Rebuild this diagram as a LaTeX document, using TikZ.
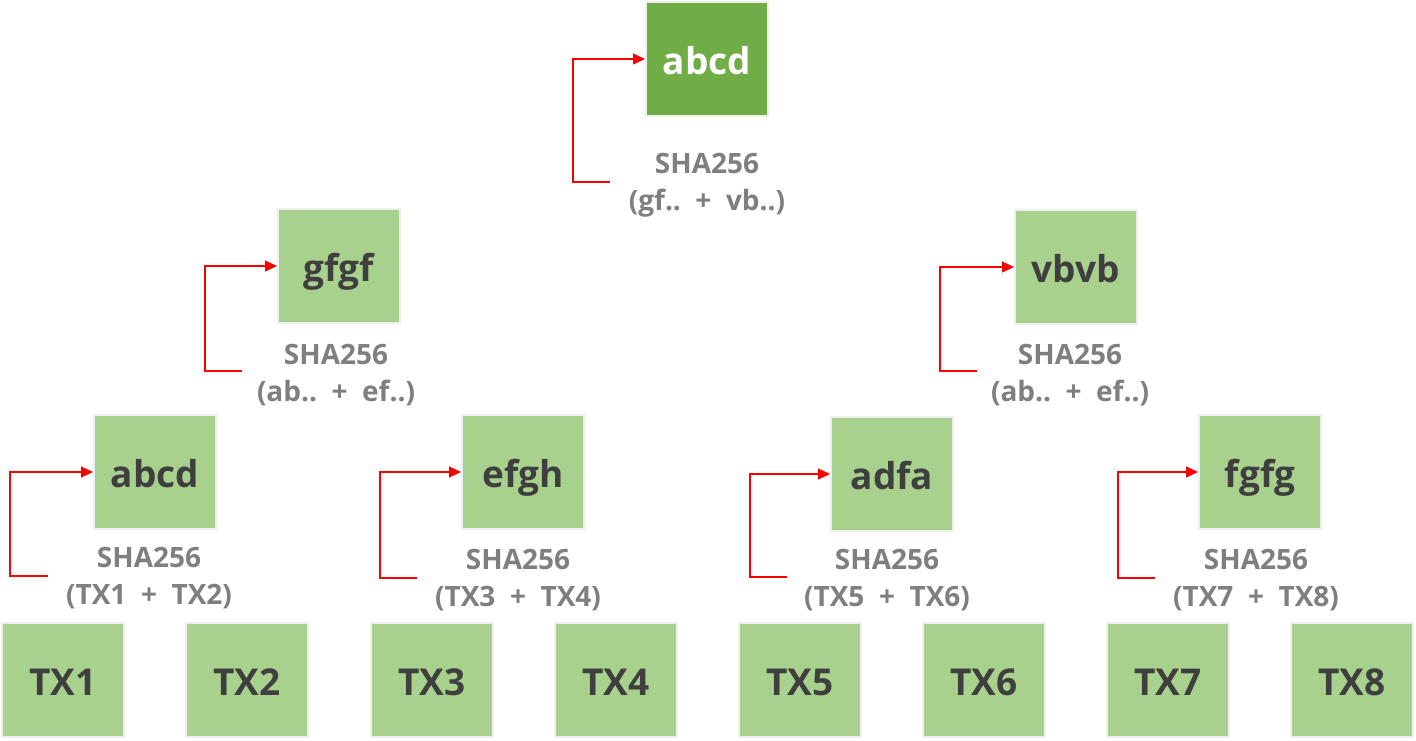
\documentclass[tikz,border=0pt]{standalone}
\usepackage{fontspec}
\setmainfont{Open Sans}
\usetikzlibrary{arrows.meta}
\definecolor{lg}{HTML}{A9D18E}
\definecolor{dg}{HTML}{70AD47}
\definecolor{bd}{HTML}{EEEEEE}
\definecolor{tx}{HTML}{3F3F3F}
\definecolor{lb}{HTML}{7F7F7F}
\tikzset{
  box/.style={rectangle, fill=lg, draw=bd, line width=2pt, minimum width=122pt, minimum height=114pt, inner sep=0pt,
    font=\bfseries\fontsize{37}{44}\selectfont, text=tx, text height=34pt, text depth=4pt},
  rootbox/.style={box, fill=dg, text=white},
  hlabel/.style={align=center, font=\bfseries\fontsize{28}{37}\selectfont, text=lb, inner sep=0pt},
  harrow/.style={draw=red, line width=1.1pt, -{Triangle[length=12pt,width=11pt]}},
}
\begin{document}
\begin{tikzpicture}[x=1pt,y=-1pt]
\useasboundingbox (0,0) rectangle (1416,740);
% root
\node[rootbox] (root) at (707,59) {abcd};
\node[hlabel] (lroot) at (707,185) {SHA256\\(gf..\ \ +\ \ vb..)};
% level 1
\node[box] (g) at (339,266) {gfgf};
\node[hlabel] (lg1) at (336,375) {SHA256\\(ab..\ \ +\ \ ef..)};
\node[box] (v) at (1076,267) {vbvb};
\node[hlabel] (lv1) at (1070,375) {SHA256\\(ab..\ \ +\ \ ef..)};
% level 2
\node[box] (a) at (155,472) {abcd};
\node[hlabel] (la) at (149,578) {SHA256\\(TX1\ \ +\ \ TX2)};
\node[box] (e) at (523,472) {efgh};
\node[hlabel] (le) at (518,580) {SHA256\\(TX3\ \ +\ \ TX4)};
\node[box] (d) at (892,474) {adfa};
\node[hlabel] (ld) at (887,580) {SHA256\\(TX5\ \ +\ \ TX6)};
\node[box] (f) at (1260,472) {fgfg};
\node[hlabel] (lf) at (1256,580) {SHA256\\(TX7\ \ +\ \ TX8)};
% leaves
\node[box] (t1) at (63,680) {TX1};
\node[box] (t2) at (247,680) {TX2};
\node[box] (t3) at (432,680) {TX3};
\node[box] (t4) at (616,680) {TX4};
\node[box] (t5) at (800,680) {TX5};
\node[box] (t6) at (984,680) {TX6};
\node[box] (t7) at (1168,680) {TX7};
\node[box] (t8) at (1352,680) {TX8};
% arrows
\coordinate (sr) at (610,182);
\coordinate (sg) at (242,371);
\coordinate (sv) at (977,371);
\coordinate (sa) at (48,576);
\coordinate (se) at (417,578);
\coordinate (sd) at (787,577);
\coordinate (sf) at (1155,578);
\draw[harrow] (sr) -- ++(-37,0) |- (root.west);
\draw[harrow] (sg) -- ++(-37,0) |- (g.west);
\draw[harrow] (sv) -- ++(-37,0) |- (v.west);
\draw[harrow] (sa) -- ++(-38,0) |- (a.west);
\draw[harrow] (se) -- ++(-37,0) |- (e.west);
\draw[harrow] (sd) -- ++(-37,0) |- (d.west);
\draw[harrow] (sf) -- ++(-37,0) |- (f.west);
\end{tikzpicture}
\end{document}
